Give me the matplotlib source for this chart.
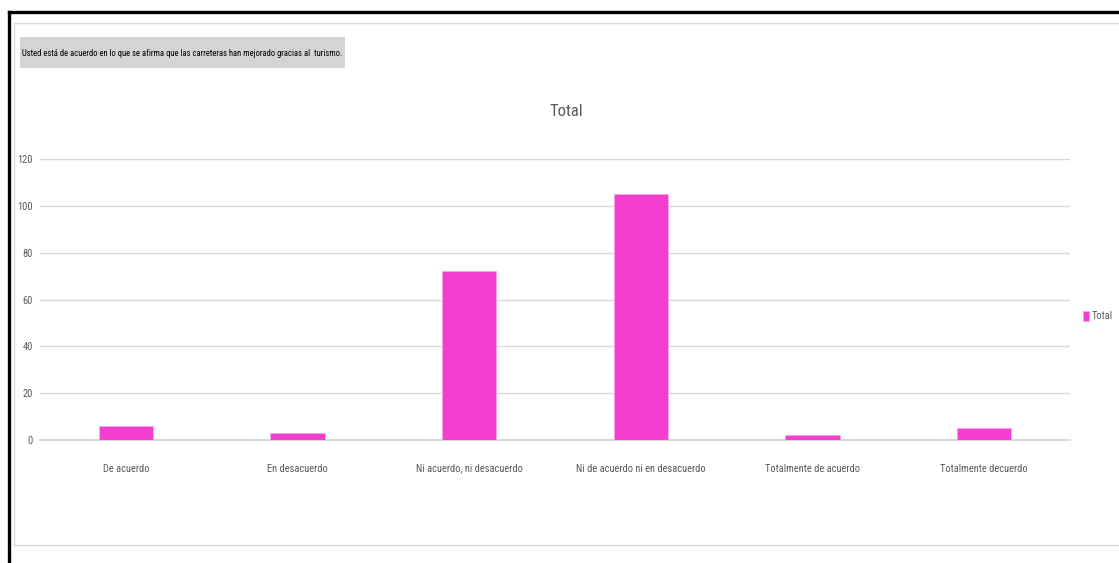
import matplotlib.pyplot as plt
from matplotlib.patches import Rectangle
from matplotlib.lines import Line2D

categorias = ["De acuerdo", "En desacuerdo", "Ni acuerdo, ni desacuerdo",
              "Ni de acuerdo ni en desacuerdo", "Totalmente de acuerdo",
              "Totalmente decuerdo"]
totales = [6, 3, 72, 105, 2, 5]
y_ticks = [0, 20, 40, 60, 80, 100, 120]

fuente = ['Liberation Sans Narrow', 'Roboto Condensed', 'Roboto', 'DejaVu Sans']
gris = '#595959'
rosa = '#F23FCE'

W, H = 1119, 563
fig = plt.figure(figsize=(W / 100, H / 100), dpi=100)

# marco negro (arriba e izquierda) y borde gris interior
fig.add_artist(Line2D([8.5 / W, 1], [1 - 11.5 / H, 1 - 11.5 / H], color='black', lw=2.4))
fig.add_artist(Line2D([8.5 / W, 8.5 / W], [0, 1 - 11.5 / H], color='black', lw=2.4))
fig.add_artist(Rectangle((14 / W, 1 - 545 / H), 1.1, (545 - 23) / H,
                         fill=False, edgecolor='#d9d9d9', lw=1))

ax = fig.add_axes([40 / W, 1 - 440 / H, (1070 - 40) / W, (440 - 159) / H])
x = range(len(categorias))
ax.bar(x, totales, width=0.315, color=rosa, edgecolor='#f7a6e6', linewidth=0.6,
       label='Total', zorder=3)
ax.set_xlim(-0.5, len(categorias) - 0.5)
ax.set_ylim(0, 120)
ax.set_yticks(y_ticks)
ax.set_xticks(list(x))
ax.set_xticklabels(categorias, family=fuente, fontsize=7.5, color=gris)
ax.set_yticklabels([str(v) for v in y_ticks], family=fuente, fontsize=7.5, color=gris)
ax.tick_params(length=0)
ax.tick_params(axis='x', pad=17)
ax.tick_params(axis='y', pad=5)
ax.grid(axis='y', color='#d9d9d9', lw=1, zorder=0)
ax.axhline(0, color='#d9d9d9', lw=1.5, clip_on=False, zorder=2)
for s in ax.spines.values():
    s.set_visible(False)

fig.text(566 / W, 1 - 111 / H, 'Total', ha='center', va='center',
         family=fuente, fontsize=12, color=gris)

# recuadro gris con la pregunta
fig.add_artist(Rectangle((20 / W, 1 - 68 / H), (345 - 20) / W, (68 - 37) / H,
                         facecolor='#d4d4d4', edgecolor='none'))
fig.text(22 / W, 1 - 54 / H, 'Usted está de acuerdo en lo que se afirma que las carreteras han mejorado gracias al  turismo.',
         ha='left', va='center', family=fuente, fontsize=6.2, color='black')

ax.legend(loc='center left', bbox_to_anchor=(1.013, 0.44), frameon=False,
          handlelength=0.5, handleheight=1.0, handletextpad=0.3, borderpad=0,
          borderaxespad=0, prop={'family': fuente, 'size': 7.5}, labelcolor=gris)

fig.savefig('out.png', dpi=100)
